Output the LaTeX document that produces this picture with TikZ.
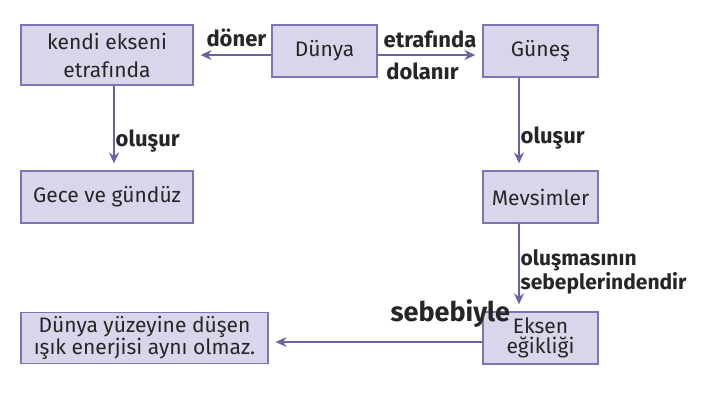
\documentclass[tikz,border=0pt]{standalone}
\usepackage{fontspec}
\setmainfont{Fira Sans}
\usetikzlibrary{positioning,arrows.meta}
\definecolor{kutu}{HTML}{D9D6EB}
\definecolor{cizgi}{HTML}{7D75B3}
\definecolor{ok}{HTML}{6C62A6}
\definecolor{yazi}{HTML}{262626}

\begin{document}
\begin{tikzpicture}[x=1pt,y=1pt,>={Stealth[length=11pt,width=10pt]},
  box/.style={draw=cizgi,fill=kutu,line width=1.3pt,text=yazi,align=center,inner sep=0pt,font=\fontsize{21}{28}\selectfont},
  arr/.style={->,draw=ok,line width=1.4pt,shorten >=7pt},
  lbl/.style={font=\bfseries\fontsize{22}{22}\selectfont,text=black!85,inner sep=1pt}]

            \useasboundingbox (0,0) rectangle (705,-400);

            \node[box,minimum width=105pt,minimum height=52pt] (dunya) at (324.5,-51) {Dünya};
            \node[box,minimum width=115pt,minimum height=52pt] (gunes) [right of = dunya, node distance=216pt] {Güneş};
            \node[box,minimum width=172pt,minimum height=60pt,yshift=-4pt] (kendi) [left of = dunya, node distance=217.5pt] {kendi ekseni\\etrafında};
            \node[box,minimum width=172pt,minimum height=52pt] (gece) [below of = kendi, node distance=142pt] {Gece ve gündüz};
            \node[box,minimum width=115pt,minimum height=52pt] (mevsim) [below of = gunes, node distance=146pt] {Mevsimler};
            \node[box,minimum width=115pt,minimum height=52pt,font=\fontsize{21}{20}\selectfont] (eksen) [below of = mevsim, node distance=141pt] {Eksen\\eğikliği};
            \node[box,minimum width=247pt,minimum height=51pt,font=\fontsize{21}{22}\selectfont] (yuzey) [left of = eksen, node distance=396pt] {Dünya yüzeyine düşen\\ışık enerjisi aynı olmaz.};

            \draw[arr] (dunya.west |- kendi) -- (kendi) node[lbl,pos=0.45,above=6pt]{döner};
            \draw[arr] (dunya.east |- kendi) -- (gunes.west |- kendi) node[lbl,midway,above=5pt]{etrafında} node[lbl,at start,below right=6pt and 7pt]{dolanır};
            \draw[arr] ([xshift=7pt]kendi.south) -- ([xshift=7pt]gece.north) node[lbl,pos=0.65,right]{oluşur};
            \draw[arr] ([xshift=-21.5pt]gunes.south) -- ([xshift=-21.5pt]mevsim.north) node[lbl,pos=0.65,right]{oluşur};
            \draw[arr] ([xshift=-21.5pt]mevsim.south) -- ([xshift=-21.5pt]eksen.north) node[lbl,pos=0.55,right,align=left,font=\bfseries\fontsize{21}{16}\selectfont]{oluşmasının\\sebeplerindendir};
            \draw[arr] ([yshift=-4pt]eksen.west) -- ([yshift=-4pt]eksen.west -| yuzey.east) node[lbl,pos=0.15,above=13pt,font=\bfseries\fontsize{27}{27}\selectfont]{sebebiyle};

        \end{tikzpicture}
\end{document}
